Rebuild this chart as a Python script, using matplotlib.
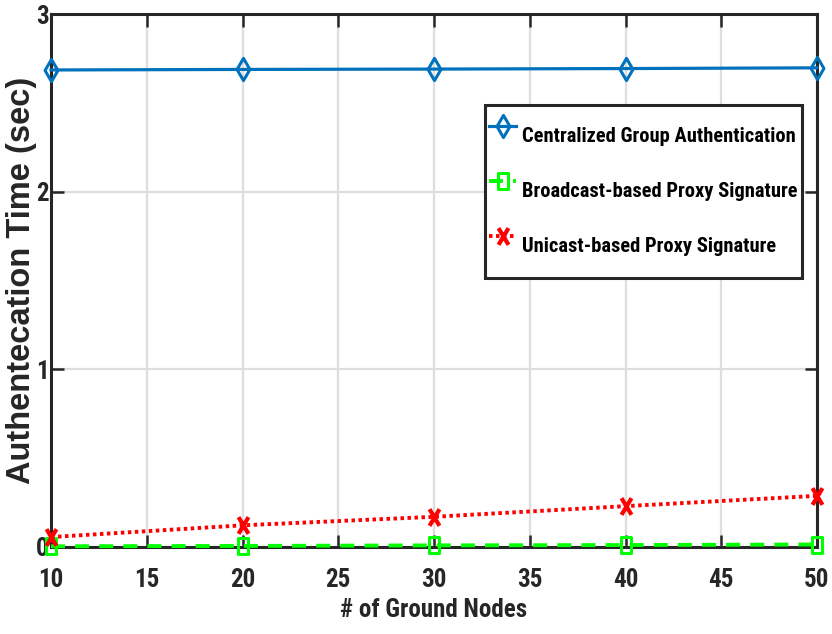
import matplotlib
matplotlib.use("Agg")
import matplotlib.pyplot as plt
from matplotlib import font_manager
from matplotlib.path import Path

nodes = [10, 20, 30, 40, 50]
centralized = [2.685, 2.688, 2.690, 2.693, 2.697]
broadcast = [0.004, 0.006, 0.009, 0.011, 0.014]
unicast = [0.056, 0.122, 0.170, 0.230, 0.288]

labels = ["Centralized Group Authentication",
          "Broadcast-based Proxy Signature",
          "Unicast-based Proxy Signature"]

# the source picture is squeezed sideways, so markers are taller than wide
tall_diamond = Path([(0, 1), (0.58, 0), (0, -1), (-0.58, 0), (0, 1)],
                    [Path.MOVETO, Path.LINETO, Path.LINETO, Path.LINETO, Path.CLOSEPOLY])
tall_square = Path([(-0.62, -1), (0.62, -1), (0.62, 1), (-0.62, 1), (-0.62, -1)],
                   [Path.MOVETO, Path.LINETO, Path.LINETO, Path.LINETO, Path.CLOSEPOLY])
tall_x = Path([(-0.6, -1), (0.6, 1), (-0.6, 1), (0.6, -1)],
              [Path.MOVETO, Path.LINETO, Path.MOVETO, Path.LINETO])

names = {f.name for f in font_manager.fontManager.ttflist}
if "Roboto Condensed" in names:
    narrow = "Roboto Condensed"
    tick_fs, xlab_fs, leg_fs = 18, 18, 14.8
else:
    narrow = "Liberation Sans"
    tick_fs, xlab_fs, leg_fs = 15, 15.5, 13

plt.rcParams['font.family'] = [narrow, 'Liberation Sans', 'DejaVu Sans']
plt.rcParams['font.weight'] = 'bold'

dark = "#262626"

fig = plt.figure(figsize=(8.32, 6.34), dpi=100)
ax = fig.add_axes([51 / 832, 1 - 547 / 634, (817 - 51) / 832, (547 - 14) / 634])

ax.grid(True, color="#dedede", linewidth=1.6)
ax.set_axisbelow(True)

ax.plot(nodes, centralized, color="#0072BD", linewidth=2.3, marker=tall_diamond,
        markersize=16, markerfacecolor="none", markeredgewidth=2.2,
        label=labels[0], clip_on=False, zorder=3)
ax.plot(nodes, broadcast, color="#00FF00", linewidth=2.8, linestyle=(0, (3.6, 2.6)),
        marker=tall_square, markersize=12, markerfacecolor="none", markeredgewidth=2.2,
        label=labels[1], clip_on=False, zorder=3)
ax.plot(nodes, unicast, color="#FF0000", linewidth=2.8, linestyle=(0, (0.9, 0.9)),
        marker=tall_x, markersize=12, markerfacecolor="none", markeredgewidth=3,
        label=labels[2], clip_on=False, zorder=3)

ax.set_xlim(10, 50)
ax.set_ylim(0, 3)
ax.set_xticks([10, 15, 20, 25, 30, 35, 40, 45, 50])
ax.set_yticks([0, 1, 2, 3])
ax.tick_params(direction="in", length=9, width=1.8, labelsize=tick_fs,
               colors=dark, top=True, right=True)
ax.tick_params(axis="x", pad=15)
ax.tick_params(axis="y", pad=1.5)
for lab in ax.get_xticklabels() + ax.get_yticklabels():
    lab.set_fontweight("bold")
for sp in ax.spines.values():
    sp.set_linewidth(2.2)
    sp.set_color(dark)

ax.set_xlabel("# of Ground Nodes", fontsize=xlab_fs, fontweight="bold", color=dark,
              va="center")
ax.xaxis.set_label_coords(0.5, -0.118)
ax.set_ylabel("Authentecation Time (sec)", fontsize=23.5, fontweight="bold",
              color=dark, va="center", family=["Liberation Sans", "DejaVu Sans"])
ax.yaxis.set_label_coords(-0.038, 0.5)

fs_px = leg_fs * 100 / 72
row_px = 55
leg = ax.legend(loc="upper left", fontsize=leg_fs,
                bbox_to_anchor=((485 - 51) / 766, (547 - 105) / 533),
                frameon=True, fancybox=False, edgecolor=dark,
                handlelength=27 / fs_px,
                handleheight=(row_px / fs_px - 0.245) / 0.65,
                handletextpad=6 / fs_px, labelspacing=0,
                borderpad=0.2, borderaxespad=0)
leg.get_frame().set_linewidth(2.2)
leg.get_frame().set_alpha(1)
for t in leg.get_texts():
    t.set_fontweight("bold")

fig.savefig("out.png", dpi=100)
